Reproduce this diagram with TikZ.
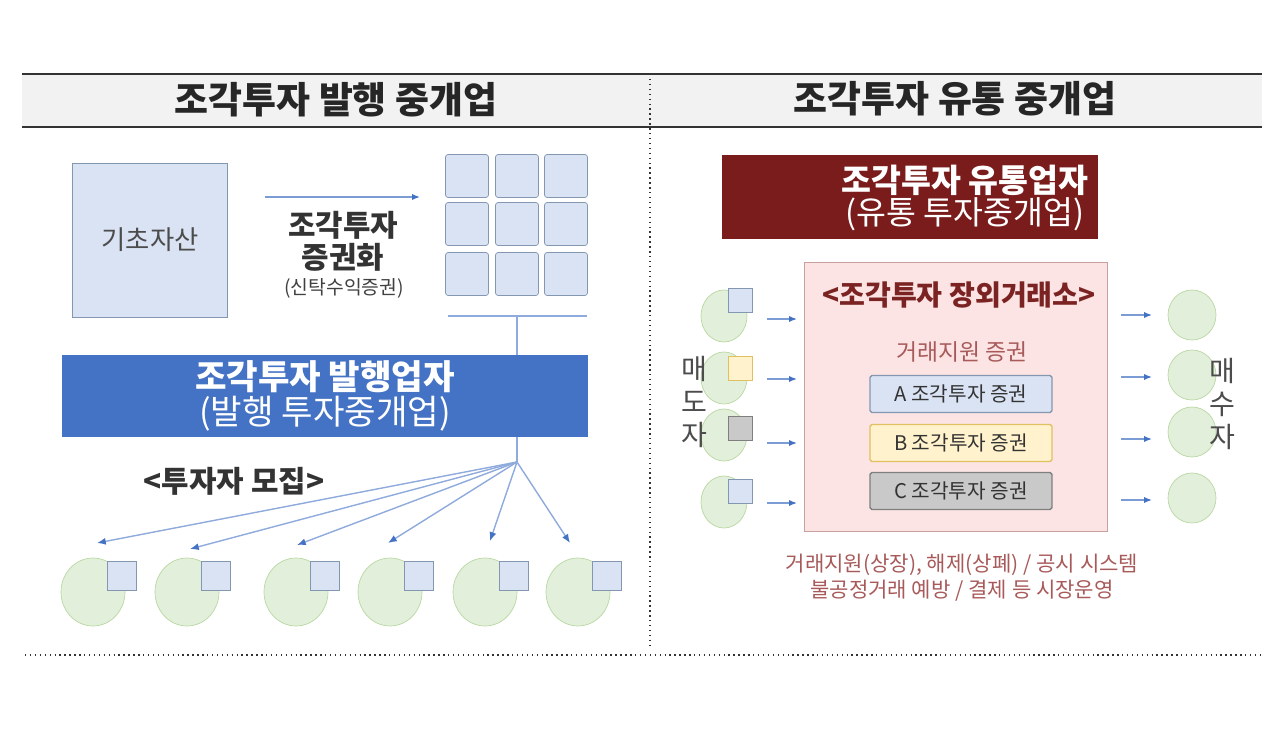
\documentclass[tikz,border=0pt]{standalone}
\usepackage{fontspec}
\setmainfont{Noto Sans CJK KR}
\usepackage{tikz}
\usetikzlibrary{shapes.geometric,arrows.meta,positioning,calc}
\definecolor{headfill}{HTML}{F2F2F2}
\definecolor{tileblue}{HTML}{DAE3F3}
\definecolor{tileedge}{HTML}{8497B0}
\definecolor{issuer}{HTML}{4472C4}
\definecolor{dealer}{HTML}{7B1C1C}
\definecolor{market}{HTML}{FCE4E4}
\definecolor{marketedge}{HTML}{C9A0A0}
\definecolor{leaf}{HTML}{E2EFDA}
\definecolor{leafedge}{HTML}{B9D8A3}
\definecolor{flow}{HTML}{4472C4}
\definecolor{fanline}{HTML}{8FAADC}
\definecolor{tokyel}{HTML}{FFF2CC}
\definecolor{tokyeledge}{HTML}{E0C060}
\definecolor{tokgray}{HTML}{C9C9C9}
\definecolor{tokgrayedge}{HTML}{7F7F7F}
\definecolor{otctext}{HTML}{7B2323}
\definecolor{notetext}{HTML}{A85A5A}

\begin{document}
\begin{tikzpicture}[x=0.02cm,y=-0.02cm,
  hdr/.style={font=\fontsize{21}{24}\selectfont\bfseries,text=black!85},
  rule/.style={line width=1.4pt,black!80},
  sep/.style={dotted,line width=0.8pt,black!80},
  asset/.style={draw=tileedge,fill=tileblue,minimum width=3.1cm,minimum height=3.08cm,
                font=\fontsize{15}{17}\selectfont,text=black!70},
  tile/.style={draw=tileedge,fill=tileblue,rounded corners=1.5pt,minimum size=0.86cm,inner sep=0pt},
  seclbl/.style={font=\fontsize{17}{19}\selectfont\bfseries,text=black!80},
  subl/.style={font=\fontsize{11}{13}\selectfont,text=black!75},
  stem/.style={draw=fanline,line width=0.8pt},
  banner/.style={align=center,text=white,inner sep=0pt},
  recruit/.style={font=\fontsize{17}{19}\selectfont\bfseries,text=black!80},
  inv/.style={ellipse,draw=leafedge,fill=leaf,inner sep=0pt},
  tokA/.style={draw=tileedge,fill=tileblue,inner sep=0pt},
  tokB/.style={draw=tokyeledge,fill=tokyel,inner sep=0pt},
  tokC/.style={draw=tokgrayedge,fill=tokgray,inner sep=0pt},
  fan/.style={draw=fanline,line width=0.8pt,-{Latex[length=5pt,width=4pt,color=flow]}},
  flowarr/.style={draw=flow!70,line width=0.7pt,-{Latex[length=4.5pt,width=3.5pt,color=flow]}},
  otc/.style={draw=marketedge,fill=market,minimum width=6.06cm,minimum height=5.38cm},
  sec/.style={minimum width=3.64cm,minimum height=0.74cm,rounded corners=1pt,
              font=\fontsize{11.5}{13}\selectfont,text=black!80,line width=0.8pt},
  side/.style={align=center,font=\fontsize{16}{19}\selectfont,text=black!70},
  note/.style={font=\fontsize{12}{14}\selectfont,text=notetext}
]
\useasboundingbox (0,0) rectangle (1286,730);

%% ── header band and dividers ────────────────────────────────────────────────
\fill[headfill] (22,74) rectangle (1262,127);
\draw[rule] (22,74) -- (1262,74);
\draw[rule] (22,127) -- (1262,127);
\node[hdr] (issT) at (336,100) {조각투자 발행 중개업};
\node[hdr] (trdT) at (955,99)  {조각투자 유통 중개업};
\draw[sep] (650,74) -- (650,648);
\draw[sep] (25,655) -- (1262,655);

%% ── left: asset -> fractional tokens ────────────────────────────────────────
\node[asset] (base) at (150,240) {기초자산};
\foreach \r/\y in {1/176,2/224,3/274}
  \foreach \c/\x in {1/467,2/517,3/566}
    \node[tile] (g\r\c) at (\x,\y) {};
\coordinate (secA) at (265,197);
\coordinate (secB) at (420,197);
\draw[flowarr] (secA) -- (secB);
\node[seclbl] (sec1) at (343,225) {조각투자};
\node[seclbl] (sec2) at (343,257) {증권화};
\node[subl]   (sec3) at (344,288) {(신탁수익증권)};

%% ── left: issuer banner and fan-out ─────────────────────────────────────────
\coordinate (barL) at (448,316);
\coordinate (barR) at (587,316);
\coordinate (barM) at (517,316);
\coordinate (hub)  at (517,462);
\draw[stem] (barL) -- (barR);
\draw[stem] (barM) -- (hub);
\node[banner,fill=issuer,minimum width=10.52cm,minimum height=1.64cm,
      font=\fontsize{19.5}{20}\selectfont] (issuer) at (325,396)
  {{\bfseries 조각투자 발행업자}\\(발행 투자중개업)};
\node[recruit] (recruit) at (234,481) {<투자자 모집>};

%% investors, each with one token
\foreach \x/\tx/\ty [count=\i] in {93/97/543,187/190/549,296/297/545,390/388/543,485/490/541,578/570/543} {
  \node[inv,minimum width=1.28cm,minimum height=1.36cm] (inv\i) at (\x,592) {};
  \node[tokA,minimum size=0.58cm] (tk\i) at ($(inv\i)+(29,-16)$) {};
  \coordinate (tip\i) at (\tx,\ty);
  \draw[fan] (hub) -- (tip\i);
}

%% ── right: dealer banner ────────────────────────────────────────────────────
\node[fill=dealer,minimum width=7.52cm,minimum height=1.7cm] (dealer) at (910,197) {};
\node[banner,font=\fontsize{18.5}{18.5}\selectfont] (dealerT) at (965,198)
  {{\bfseries 조각투자 유통업자}\\(유통 투자중개업)};

%% ── right: OTC market box ───────────────────────────────────────────────────
\node[otc] (otc) at (956,397) {};
\node[font=\fontsize{16}{18}\selectfont\bfseries,text=otctext] (otcT) at (959,295) {<조각투자 장외거래소>};
\node[font=\fontsize{13}{15}\selectfont,text=notetext] (listT) at (962,352) {거래지원 증권};
\node[sec,draw=tileedge,fill=tileblue]      (secA1) at (961,394) {A 조각투자 증권};
\node[sec,draw=tokyeledge,fill=tokyel]      (secB1) at (961,443) {B 조각투자 증권};
\node[sec,draw=tokgrayedge,fill=tokgray]    (secC1) at (961,491) {C 조각투자 증권};

%% sellers (left of the box)
\foreach \cy/\ty/\ay/\st [count=\i] in {316/300/319/tokA,378/368/379/tokB,435/428/443/tokC,502/491/503/tokA} {
  \node[inv,minimum width=0.92cm,minimum height=1.04cm] (sel\i) at (724,\cy) {};
  \node[\st,minimum size=0.48cm] (stk\i) at (740,\ty) {};
  \coordinate (sa\i) at (767,\ay);
  \coordinate (sb\i) at (797,\ay);
  \draw[flowarr] (sa\i) -- (sb\i);
}
\node[side] (sellT) at (694,402) {매\\도\\자};

%% buyers (right of the box)
\foreach \cy/\ay [count=\i] in {315/315,375/377,432/439,498/500} {
  \node[inv,minimum width=0.96cm,minimum height=1.0cm] (buy\i) at (1192,\cy) {};
  \coordinate (ba\i) at (1121,\ay);
  \coordinate (bb\i) at (1152,\ay);
  \draw[flowarr] (ba\i) -- (bb\i);
}
\node[side] (buyT) at (1222,404) {매\\수\\자};

%% ── market functions ────────────────────────────────────────────────────────
\node[note] (rule1) at (962,565) {거래지원(상장), 해제(상폐) / 공시 시스템};
\node[note] (rule2) at (962,591) {불공정거래 예방 / 결제 등 시장운영};
\end{tikzpicture}
\end{document}
